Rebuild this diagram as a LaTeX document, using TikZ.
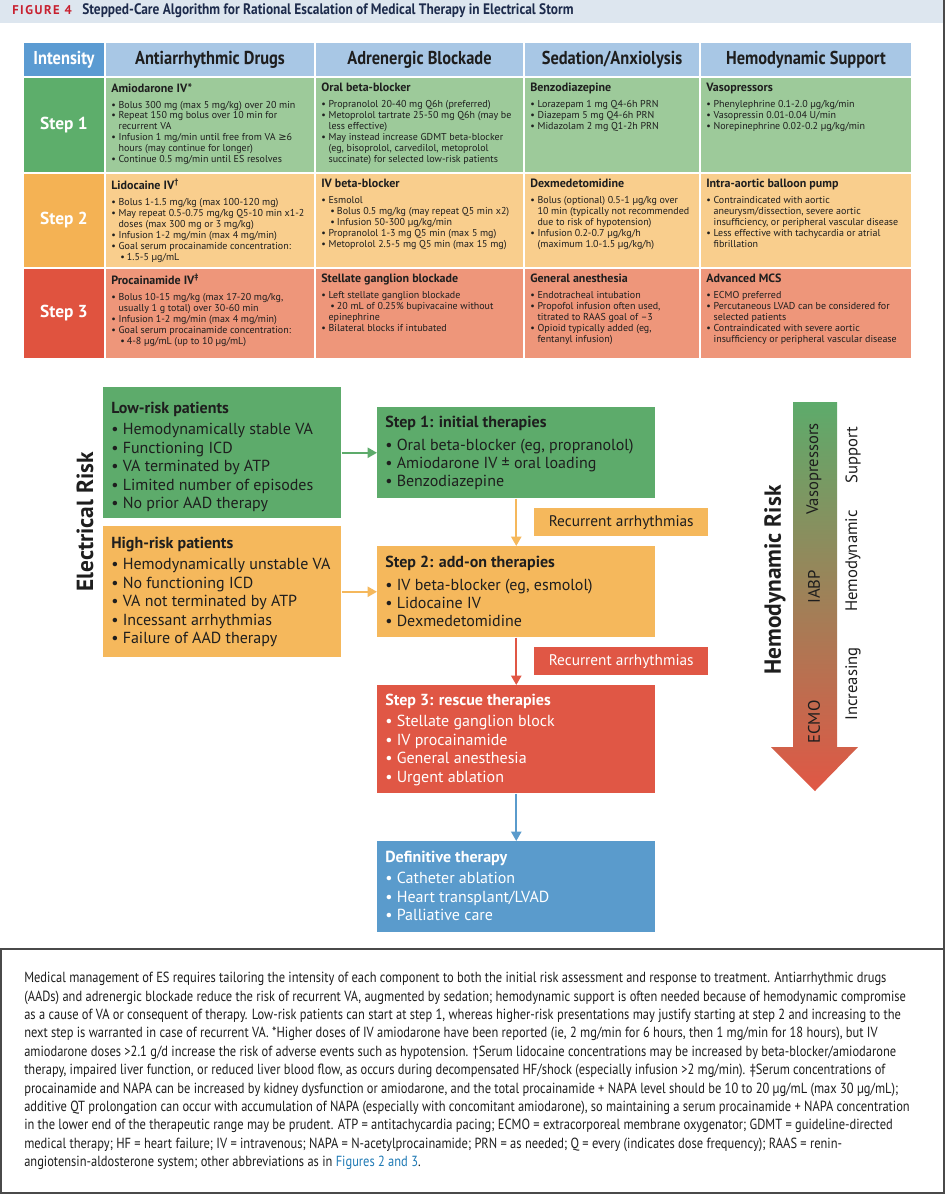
\documentclass[tikz,border=0pt]{standalone}
\usepackage{fontspec}
\setmainfont{PT Sans}
\newfontfamily\dvsans{DejaVu Sans}
\newfontfamily\cndfont[FakeStretch=0.88]{PT Sans}
\newfontfamily\captfont[FakeStretch=0.85]{PT Sans}
\newfontfamily\figlabelfont[LetterSpace=12]{PT Sans}
\usetikzlibrary{arrows.meta, positioning}

\definecolor{bandgray}{HTML}{DDE6EF}
\definecolor{figred}{HTML}{C8202F}
\definecolor{titlenavy}{HTML}{1D2B4C}
\definecolor{hdrdark}{HTML}{5B9BD2}
\definecolor{hdrlight}{HTML}{A8C7E5}
\definecolor{grnlab}{HTML}{5DAE6B}
\definecolor{grncell}{HTML}{9DCA9A}
\definecolor{orglab}{HTML}{F4B254}
\definecolor{orgcell}{HTML}{F9CE8D}
\definecolor{redlab}{HTML}{E0533F}
\definecolor{redcell}{HTML}{EE967A}
\definecolor{boxgrn}{HTML}{5DAB6B}
\definecolor{boxorg}{HTML}{F5B85C}
\definecolor{boxred}{HTML}{E05745}
\definecolor{boxblue}{HTML}{5A9BCC}
\definecolor{txtdark}{HTML}{1E1E1E}
\definecolor{linkblue}{HTML}{1F7AB5}
\definecolor{framegray}{HTML}{4A4A4A}

\newcommand{\bul}{\makebox[5.5pt][l]{•}}
\newcommand{\cont}{\hspace*{5.5pt}}
\newcommand{\subbul}{\hspace*{6.75pt}\makebox[5pt][l]{•}}
\newcommand{\ctitle}[1]{{\fontsize{9}{10}\selectfont\bfseries #1}\\[3.8pt]}

\begin{document}
\begin{tikzpicture}[x=0.75pt, y=-0.75pt, >={Triangle[length=7pt,width=7.5pt]},
  cellsep/.style={draw=white, line width=1.5pt},
  colhead/.style={font=\cndfont\bfseries\fontsize{14}{16}\selectfont, text=txtdark},
  steplab/.style={font=\bfseries\fontsize{13}{15}\selectfont, text=white},
  celltxt/.style={anchor=north west, inner sep=0pt, align=left, font=\fontsize{7.5}{8.2}\selectfont, text=txtdark},
  flowbox/.style={anchor=north west, inner sep=0pt, draw=none},
  flowtxt/.style={anchor=north west, inner sep=0pt, align=left, font=\fontsize{12}{13.8}\selectfont},
  reclab/.style={anchor=north west, inner sep=0pt, minimum width=130.5pt, minimum height=21pt, font=\fontsize{11.5}{13}\selectfont},
  flowarrow/.style={->, line width=1.6pt},
  riskttl/.style={font=\bfseries\fontsize{17.5}{20}\selectfont, text=txtdark},
  arrlab/.style={font=\fontsize{12.5}{14}\selectfont, text=txtdark},
  frameline/.style={draw=framegray, line width=1pt}]

  \useasboundingbox (0,0) rectangle (952,1200);
  \fill[white] (0,0) rectangle (952,1200);

  % Title band
  \fill[bandgray] (0,0) rectangle (944,23);
  \node[anchor=west, inner sep=0pt, text=figred, font=\figlabelfont\bfseries\fontsize{9.5}{11}\selectfont] (figno) at (12,10.5) {FIGURE 4};
  \node[anchor=west, inner sep=0pt, text=titlenavy, font=\cndfont\bfseries\fontsize{11.4}{13}\selectfont] (figtitle) at (82,10.5) {Stepped-Care Algorithm for Rational Escalation of Medical Therapy in Electrical Storm};

  % Table header
  \filldraw[cellsep, fill=hdrdark] (23,42) rectangle (105,77);
  \filldraw[cellsep, fill=hdrlight] (105,42) rectangle (315,77);
  \filldraw[cellsep, fill=hdrlight] (315,42) rectangle (524,77);
  \filldraw[cellsep, fill=hdrlight] (524,42) rectangle (700,77);
  \filldraw[cellsep, fill=hdrlight] (700,42) rectangle (912,77);
  \node[colhead, text=white] (hint) at (64,59.5) {Intensity};
  \node[colhead] (hdrug) at (210,59.5) {Antiarrhythmic Drugs};
  \node[colhead] (hadren) at (419.5,59.5) {Adrenergic Blockade};
  \node[colhead] (hsed) at (612,59.5) {Sedation/Anxiolysis};
  \node[colhead] (hhemo) at (806,59.5) {Hemodynamic Support};

  % Step 1 row
  \filldraw[cellsep, fill=grnlab] (23,77) rectangle (105,173);
  \filldraw[cellsep, fill=grncell] (105,77) rectangle (315,173);
  \filldraw[cellsep, fill=grncell] (315,77) rectangle (524,173);
  \filldraw[cellsep, fill=grncell] (524,77) rectangle (700,173);
  \filldraw[cellsep, fill=grncell] (700,77) rectangle (912,173);
  \node[steplab] (s1lab) at (64,125) {Step 1};
  \node[celltxt] (s1drug) at (111,83) {\ctitle{Amiodarone IV*}
    \bul Bolus 300 mg (max 5 mg/kg) over 20 min\\
    \bul Repeat 150 mg bolus over 10 min for\\
    \cont recurrent VA\\
    \bul Infusion 1 mg/min until free from VA {\dvsans ≥}6\\
    \cont hours (may continue for longer)\\
    \bul Continue 0.5 mg/min until ES resolves};
  \node[celltxt] (s1adren) at (321,83) {\ctitle{Oral beta-blocker}
    \bul Propranolol 20-40 mg Q6h (preferred)\\
    \bul Metoprolol tartrate 25-50 mg Q6h (may be\\
    \cont less effective)\\
    \bul May instead increase GDMT beta-blocker\\
    \cont (eg, bisoprolol, carvedilol, metoprolol\\
    \cont succinate) for selected low-risk patients};
  \node[celltxt] (s1sed) at (530,83) {\ctitle{Benzodiazepine}
    \bul Lorazepam 1 mg Q4-6h PRN\\
    \bul Diazepam 5 mg Q4-6h PRN\\
    \bul Midazolam 2 mg Q1-2h PRN};
  \node[celltxt] (s1hemo) at (706,83) {\ctitle{Vasopressors}
    \bul Phenylephrine 0.1-2.0 µg/kg/min\\
    \bul Vasopressin 0.01-0.04 U/min\\
    \bul Norepinephrine 0.02-0.2 µg/kg/min};

  % Step 2 row
  \filldraw[cellsep, fill=orglab] (23,173) rectangle (105,268);
  \filldraw[cellsep, fill=orgcell] (105,173) rectangle (315,268);
  \filldraw[cellsep, fill=orgcell] (315,173) rectangle (524,268);
  \filldraw[cellsep, fill=orgcell] (524,173) rectangle (700,268);
  \filldraw[cellsep, fill=orgcell] (700,173) rectangle (912,268);
  \node[steplab] (s2lab) at (64,220.5) {Step 2};
  \node[celltxt] (s2drug) at (111,179) {\ctitle{Lidocaine IV\textsuperscript{†}}
    \bul Bolus 1-1.5 mg/kg (max 100-120 mg)\\
    \bul May repeat 0.5-0.75 mg/kg Q5-10 min x1-2\\
    \cont doses (max 300 mg or 3 mg/kg)\\
    \bul Infusion 1-2 mg/min (max 4 mg/min)\\
    \bul Goal serum procainamide concentration:\\
    \subbul 1.5-5 µg/mL};
  \node[celltxt] (s2adren) at (321,179) {\ctitle{IV beta-blocker}
    \bul Esmolol\\
    \subbul Bolus 0.5 mg/kg (may repeat Q5 min x2)\\
    \subbul Infusion 50-300 µg/kg/min\\
    \bul Propranolol 1-3 mg Q5 min (max 5 mg)\\
    \bul Metoprolol 2.5-5 mg Q5 min (max 15 mg)};
  \node[celltxt] (s2sed) at (530,179) {\ctitle{Dexmedetomidine}
    \bul Bolus (optional) 0.5-1 µg/kg over\\
    \cont 10 min (typically not recommended\\
    \cont due to risk of hypotension)\\
    \bul Infusion 0.2-0.7 µg/kg/h\\
    \cont (maximum 1.0-1.5 µg/kg/h)};
  \node[celltxt] (s2hemo) at (706,179) {\ctitle{Intra-aortic balloon pump}
    \bul Contraindicated with aortic\\
    \cont aneurysm/dissection, severe aortic\\
    \cont insufficiency, or peripheral vascular disease\\
    \bul Less effective with tachycardia or atrial\\
    \cont fibrillation};

  % Step 3 row
  \filldraw[cellsep, fill=redlab] (23,268) rectangle (105,359);
  \filldraw[cellsep, fill=redcell] (105,268) rectangle (315,359);
  \filldraw[cellsep, fill=redcell] (315,268) rectangle (524,359);
  \filldraw[cellsep, fill=redcell] (524,268) rectangle (700,359);
  \filldraw[cellsep, fill=redcell] (700,268) rectangle (912,359);
  \node[steplab] (s3lab) at (64,313.5) {Step 3};
  \node[celltxt] (s3drug) at (111,274) {\ctitle{Procainamide IV\textsuperscript{‡}}
    \bul Bolus 10-15 mg/kg (max 17-20 mg/kg,\\
    \cont usually 1 g total) over 30-60 min\\
    \bul Infusion 1-2 mg/min (max 4 mg/min)\\
    \bul Goal serum procainamide concentration:\\
    \subbul 4-8 µg/mL (up to 10 µg/mL)};
  \node[celltxt] (s3adren) at (321,274) {\ctitle{Stellate ganglion blockade}
    \bul Left stellate ganglion blockade\\
    \subbul 20 mL of 0.25\% bupivacaine without\\
    \cont epinephrine\\
    \bul Bilateral blocks if intubated};
  \node[celltxt] (s3sed) at (530,274) {\ctitle{General anesthesia}
    \bul Endotracheal intubation\\
    \bul Propofol infusion often used,\\
    \cont titrated to RAAS goal of –3\\
    \bul Opioid typically added (eg,\\
    \cont fentanyl infusion)};
  \node[celltxt] (s3hemo) at (706,274) {\ctitle{Advanced MCS}
    \bul ECMO preferred\\
    \bul Percutaneous LVAD can be considered for\\
    \cont selected patients\\
    \bul Contraindicated with severe aortic\\
    \cont insufficiency or peripheral vascular disease};

  % Risk boxes
  \node[flowbox, fill=boxgrn, minimum width=178.5pt, minimum height=98.25pt] (low) at (103,387) {};
  \node[flowbox, fill=boxorg, minimum width=178.5pt, minimum height=98.25pt] (high) at (103,526) {};
  \node[flowtxt, text=txtdark] (lowtxt) at (111,401.5) {\textbf{Low-risk patients}\\[2.5pt]
    • Hemodynamically stable VA\\ • Functioning ICD\\ • VA terminated by ATP\\
    • Limited number of episodes\\ • No prior AAD therapy};
  \node[flowtxt, text=txtdark] (hightxt) at (111,536.5) {\textbf{High-risk patients}\\[2.5pt]
    • Hemodynamically unstable VA\\ • No functioning ICD\\ • VA not terminated by ATP\\
    • Incessant arrhythmias\\ • Failure of AAD therapy};
  \node[riskttl, rotate=90] (elrisk) at (85,522) {Electrical Risk};

  % Step boxes
  \node[flowbox, fill=boxgrn, minimum width=208.5pt, minimum height=68.25pt] (step1) at (377,407) {};
  \node[flowbox, fill=boxorg, minimum width=208.5pt, minimum height=68.25pt] (step2) at (377,546) {};
  \node[flowbox, fill=boxred, minimum width=208.5pt, minimum height=81pt] (step3) at (377,685) {};
  \node[flowbox, fill=boxblue, minimum width=208.5pt, minimum height=68.25pt] (def) at (377,841) {};
  \node[flowtxt, text=txtdark] (step1txt) at (385,415.5) {\textbf{Step 1: initial therapies}\\[3.4pt]
    • Oral beta-blocker (eg, propranolol)\\ • Amiodarone IV ± oral loading\\ • Benzodiazepine};
  \node[flowtxt, text=txtdark] (step2txt) at (385,555.5) {\textbf{Step 2: add-on therapies}\\[3.4pt]
    • IV beta-blocker (eg, esmolol)\\ • Lidocaine IV\\ • Dexmedetomidine};
  \node[flowtxt, text=white] (step3txt) at (385,693.5) {\textbf{Step 3: rescue therapies}\\[2.5pt]
    • Stellate ganglion block\\ • IV procainamide\\ • General anesthesia\\ • Urgent ablation};
  \node[flowtxt, text=white] (deftxt) at (385,850.5) {\textbf{Definitive therapy}\\[2.5pt]
    • Catheter ablation\\ • Heart transplant/LVAD\\ • Palliative care};
  \node[reclab, fill=boxorg, text=txtdark] (rec1) at (534,508) {Recurrent arrhythmias};
  \node[reclab, fill=boxred, text=white] (rec2) at (534,647) {Recurrent arrhythmias};

  % Arrows
  \draw[flowarrow, boxgrn] (low.east) -- (step1.west);
  \draw[flowarrow, boxorg] (high.east) -- (step2.west);
  \draw[flowarrow, boxorg] (step1.south) -- (step2.north);
  \draw[flowarrow, boxred] (step2.south) -- (step3.north);
  \draw[flowarrow, boxblue] (step3.south) -- (def.north);

  % Hemodynamic risk arrow
  \shade[top color=boxgrn, middle color=boxorg, bottom color=boxred]
    (793,402) -- (837,402) -- (837,747) -- (858,747) -- (815,791) -- (771,747) -- (793,747) -- cycle;
  \node[riskttl, rotate=90] (hemrisk) at (775,580) {Hemodynamic Risk};
  \node[arrlab, rotate=90] (vaso) at (814,469) {Vasopressors};
  \node[arrlab, rotate=90] (iabp) at (814,587) {IABP};
  \node[arrlab, rotate=90] (ecmo) at (814,722) {ECMO};
  \node[arrlab, rotate=90] (supp) at (853,455) {Support};
  \node[arrlab, rotate=90] (hemo) at (853,561) {Hemodynamic};
  \node[arrlab, rotate=90] (incr) at (853,684) {Increasing};

  % Frame and caption
  \draw[frameline] (944,0) -- (944,949);
  \draw[frameline] (1,949) rectangle (944,1193);
  \node[anchor=north west, inner sep=0pt, align=left, text=txtdark, font=\captfont\fontsize{11}{13.8}\selectfont] (caption) at (24,972) {%
    Medical management of ES requires tailoring the intensity of each component to both the initial risk assessment and response to treatment. Antiarrhythmic drugs\\
    (AADs) and adrenergic blockade reduce the risk of recurrent VA, augmented by sedation; hemodynamic support is often needed because of hemodynamic compromise\\
    as a cause of VA or consequent of therapy. Low-risk patients can start at step 1, whereas higher-risk presentations may justify starting at step 2 and increasing to the\\
    next step is warranted in case of recurrent VA. *Higher doses of IV amiodarone have been reported (ie, 2 mg/min for 6 hours, then 1 mg/min for 18 hours), but IV\\
    amiodarone doses >2.1 g/d increase the risk of adverse events such as hypotension. †Serum lidocaine concentrations may be increased by beta-blocker/amiodarone\\
    therapy, impaired liver function, or reduced liver blood flow, as occurs during decompensated HF/shock (especially infusion >2 mg/min). ‡Serum concentrations of\\
    procainamide and NAPA can be increased by kidney dysfunction or amiodarone, and the total procainamide + NAPA level should be 10 to 20 µg/mL (max 30 µg/mL);\\
    additive QT prolongation can occur with accumulation of NAPA (especially with concomitant amiodarone), so maintaining a serum procainamide + NAPA concentration\\
    in the lower end of the therapeutic range may be prudent. ATP = antitachycardia pacing; ECMO = extracorporeal membrane oxygenator; GDMT = guideline-directed\\
    medical therapy; HF = heart failure; IV = intravenous; NAPA = N-acetylprocainamide; PRN = as needed; Q = every (indicates dose frequency); RAAS = renin-\\
    angiotensin-aldosterone system; other abbreviations as in \textcolor{linkblue}{Figures 2 and 3}.};

\end{tikzpicture}
\end{document}
